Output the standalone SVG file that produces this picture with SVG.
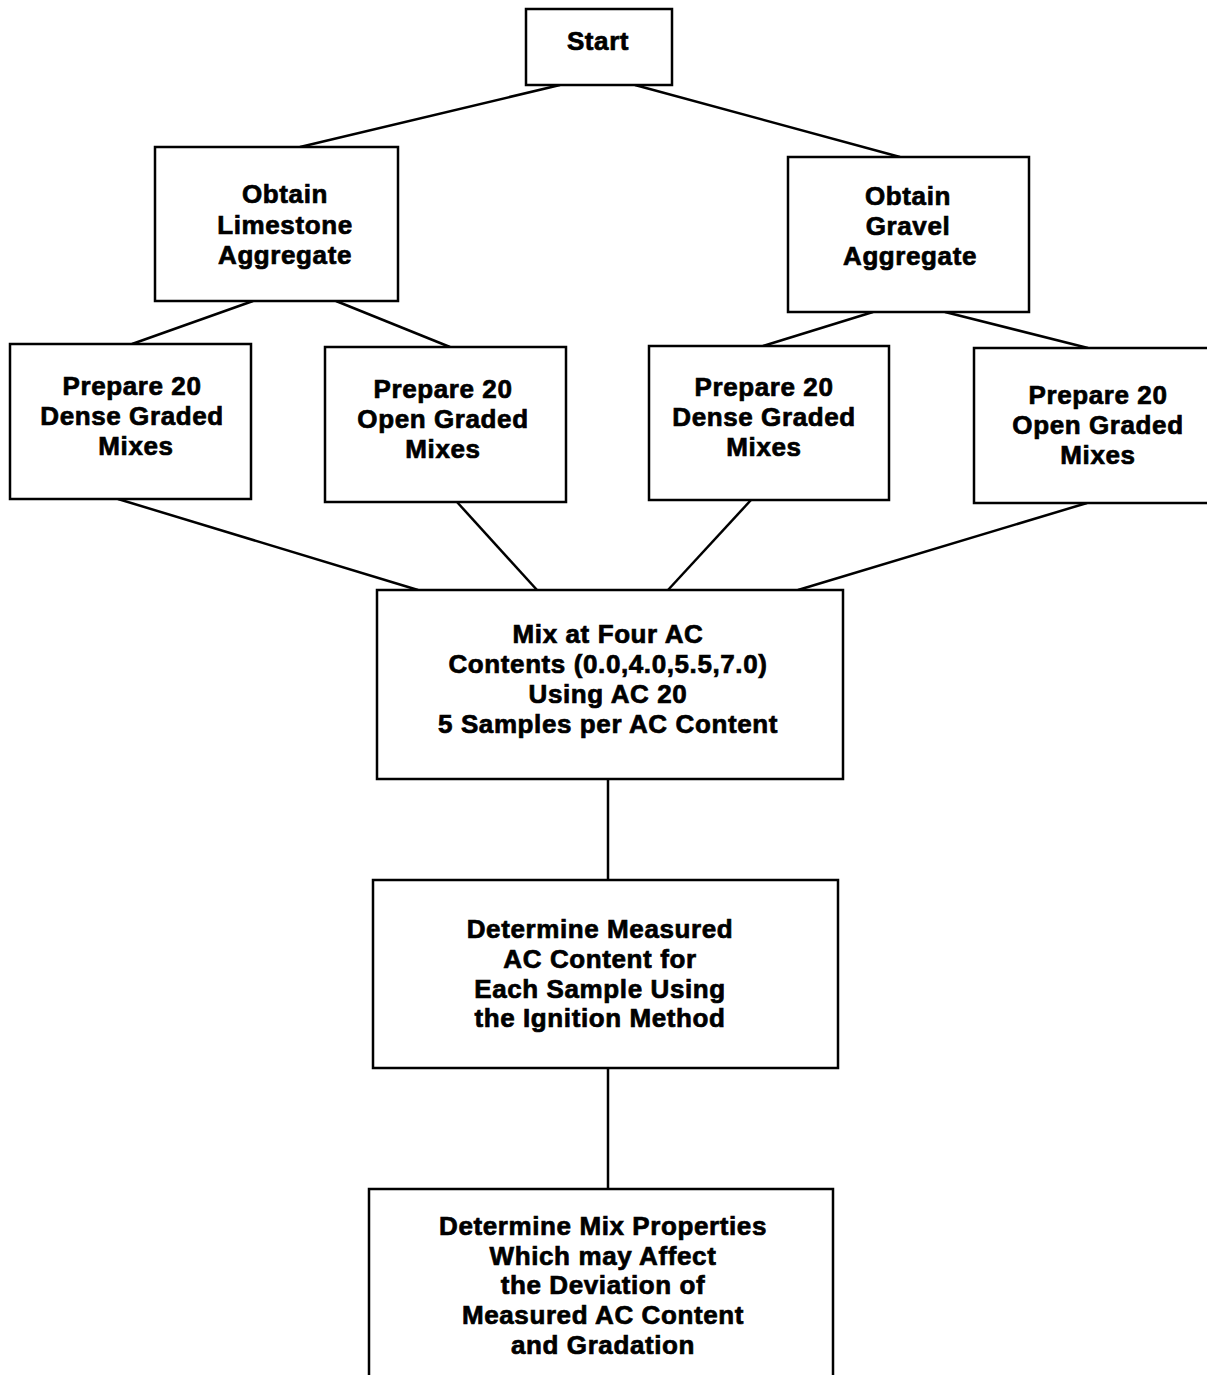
<svg xmlns="http://www.w3.org/2000/svg" width="1207" height="1375" viewBox="0 0 1207 1375">
<style>
.box{fill:#fff;stroke:#000;stroke-width:2.5}
.t{font-family:"Liberation Sans",Arial,sans-serif;font-weight:bold;font-size:26px;letter-spacing:0.6px;text-anchor:middle;fill:#000;stroke:#000;stroke-width:0.7}
.c{stroke:#000;stroke-width:2.5;fill:none}
</style>
<rect width="1207" height="1375" fill="#fff"/>
<g id="connectors">
<line class="c" x1="560" y1="85" x2="300" y2="147"/>
<line class="c" x1="635" y1="85" x2="900" y2="157"/>
<line class="c" x1="253" y1="301" x2="132" y2="344"/>
<line class="c" x1="336" y1="301" x2="450" y2="347"/>
<line class="c" x1="873" y1="312" x2="763" y2="346"/>
<line class="c" x1="945" y1="312" x2="1088" y2="348"/>
<line class="c" x1="118" y1="499" x2="418" y2="590"/>
<line class="c" x1="457" y1="502" x2="537" y2="590"/>
<line class="c" x1="751" y1="500" x2="668" y2="590"/>
<line class="c" x1="1087" y1="503" x2="798" y2="590"/>
<line class="c" x1="608" y1="779" x2="608" y2="880"/>
<line class="c" x1="608" y1="1068" x2="608" y2="1189"/>
</g>
<g id="start">
<rect class="box" x="526" y="9" width="146" height="76"/>
<text class="t" x="598" y="50">Start</text>
</g>
<g id="limestone">
<rect class="box" x="155" y="147" width="243" height="154"/>
<text class="t" x="285" y="203">Obtain</text>
<text class="t" x="285" y="234">Limestone</text>
<text class="t" x="285" y="264">Aggregate</text>
</g>
<g id="gravel">
<rect class="box" x="788" y="157" width="241" height="155"/>
<text class="t" x="908" y="205">Obtain</text>
<text class="t" x="908" y="235">Gravel</text>
<text class="t" x="910" y="265">Aggregate</text>
</g>
<g id="dense-l">
<rect class="box" x="10" y="344" width="241" height="155"/>
<text class="t" x="132" y="395">Prepare 20</text>
<text class="t" x="132" y="425">Dense Graded</text>
<text class="t" x="136" y="455">Mixes</text>
</g>
<g id="open-l">
<rect class="box" x="325" y="347" width="241" height="155"/>
<text class="t" x="443" y="398">Prepare 20</text>
<text class="t" x="443" y="428">Open Graded</text>
<text class="t" x="443" y="458">Mixes</text>
</g>
<g id="dense-g">
<rect class="box" x="649" y="346" width="240" height="154"/>
<text class="t" x="764" y="396">Prepare 20</text>
<text class="t" x="764" y="426">Dense Graded</text>
<text class="t" x="764" y="456">Mixes</text>
</g>
<g id="open-g">
<rect class="box" x="974" y="348" width="240" height="155"/>
<text class="t" x="1098" y="404">Prepare 20</text>
<text class="t" x="1098" y="434">Open Graded</text>
<text class="t" x="1098" y="464">Mixes</text>
</g>
<g id="mix">
<rect class="box" x="377" y="590" width="466" height="189"/>
<text class="t" x="608" y="643">Mix at Four AC</text>
<text class="t" x="608" y="673">Contents (0.0,4.0,5.5,7.0)</text>
<text class="t" x="608" y="703">Using AC 20</text>
<text class="t" x="608" y="733">5 Samples per AC Content</text>
</g>
<g id="measured">
<rect class="box" x="373" y="880" width="465" height="188"/>
<text class="t" x="600" y="938">Determine Measured</text>
<text class="t" x="600" y="968">AC Content for</text>
<text class="t" x="600" y="998">Each Sample Using</text>
<text class="t" x="600" y="1027">the Ignition Method</text>
</g>
<g id="properties">
<rect class="box" x="369" y="1189" width="464" height="190"/>
<text class="t" x="603" y="1235">Determine Mix Properties</text>
<text class="t" x="603" y="1265">Which may Affect</text>
<text class="t" x="603" y="1294">the Deviation of</text>
<text class="t" x="603" y="1324">Measured AC Content</text>
<text class="t" x="603" y="1354">and Gradation</text>
</g>
</svg>
